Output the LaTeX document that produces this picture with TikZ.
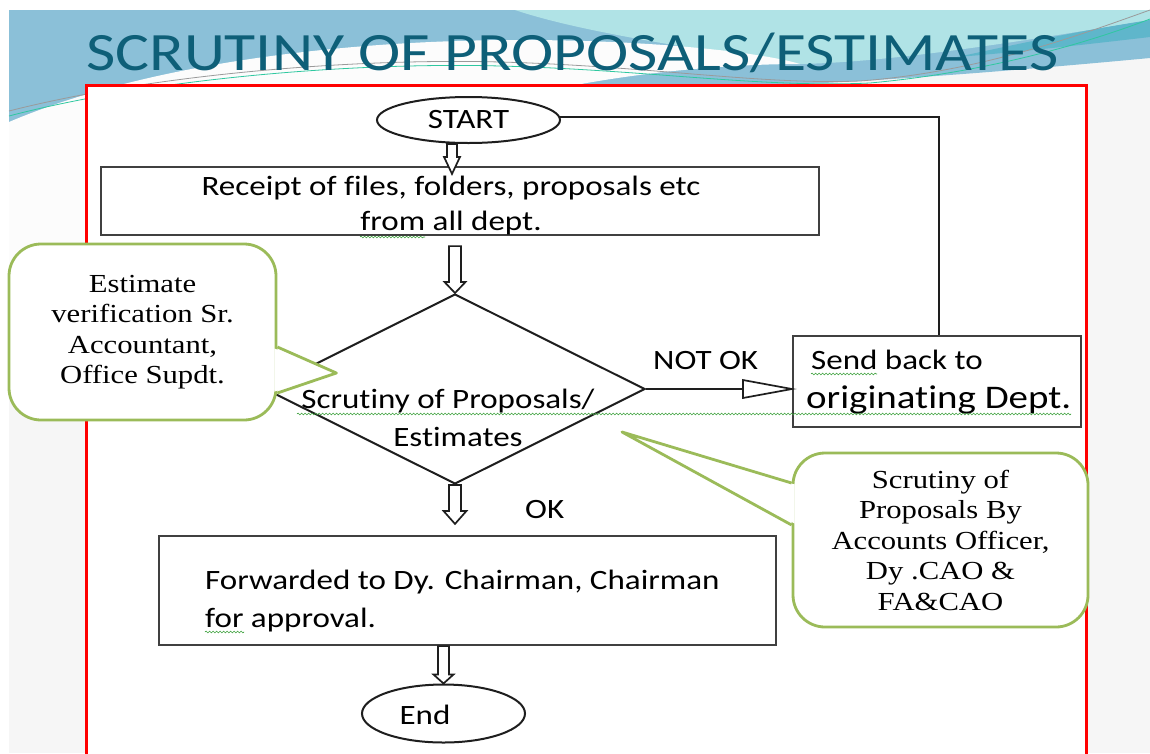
\documentclass[tikz,border=0pt]{standalone}
\usepackage{fontspec}
\usetikzlibrary{shapes.geometric,calc,decorations.pathmorphing}
\newfontfamily\flowfont{Carlito}[FakeStretch=1.18,Ligatures={NoCommon}]
\newfontfamily\serifcall{Liberation Serif}[FakeStretch=1.18]
\newfontfamily\titlefnt{Carlito}[FakeStretch=1.18,Ligatures={NoCommon}]
\definecolor{slidebg}{HTML}{F6F6F6}
\definecolor{wavebg}{HTML}{FCFCFC}
\definecolor{swblue}{HTML}{8BC0D8}
\definecolor{swcyan}{HTML}{B0E3E6}
\definecolor{swteal}{HTML}{5FB6CB}
\definecolor{titleblue}{HTML}{0E5F78}
\definecolor{callgreen}{HTML}{9BBB59}
\definecolor{linegray}{HTML}{1E1E1E}
\definecolor{spellgreen}{HTML}{3BA03B}
\definecolor{thingray}{HTML}{9A9A9A}
\definecolor{thingreen}{HTML}{2FC8A0}
\newcommand{\blockdown}[5]{%
  \draw[barrow] let \p1=(#1), \p2=(#2) in
    (\x2-#3pt,\y1) -- (\x2-#3pt,\y2+#5pt) -- (\x2-#4pt,\y2+#5pt) -- (\x2,\y2)
    -- (\x2+#4pt,\y2+#5pt) -- (\x2+#3pt,\y2+#5pt) -- (\x2+#3pt,\y1) -- cycle;}
\begin{document}
\begin{tikzpicture}[x=1pt,y=-1pt,
  flowline/.style={draw=linegray,line width=2pt},
  boxnode/.style={draw=linegray!85,line width=2.2pt,fill=white,rectangle,inner sep=0pt},
  ellnode/.style={draw=linegray,line width=2pt,fill=white,ellipse,inner sep=0pt},
  ftext/.style={font=\flowfont\fontsize{28}{34}\selectfont,inner sep=0pt,anchor=base west,text=black},
  calloutbox/.style={draw=callgreen,line width=2.8pt,fill=white,rounded corners=32pt,inner sep=0pt,
     align=center,font=\serifcall\fontsize{26}{30.5}\selectfont},
  pointer/.style={draw=callgreen,line width=2.8pt,line join=round},
  barrow/.style={draw=linegray,line width=1.7pt,fill=white,line join=miter},
  spell/.style={draw=spellgreen,line width=0.6pt,decorate,decoration={snake,segment length=3.5pt,amplitude=0.9pt}}
]
\useasboundingbox (0,0) rectangle (1150,753);
\clip (0,0) rectangle (1150,753);
% background
\fill[white] (0,0) rectangle (1150,753);
\fill[slidebg] (9,10) rectangle (1150,753);
\fill[swblue] (9,10) -- (1150,10) -- (1150,58) .. controls (1000,72) and (850,84) .. (700,88)
   -- (700,200) -- (9,200) -- cycle;
\fill[swcyan] (515,10) -- (1150,10) -- (1150,20) .. controls (1040,38) and (900,62) .. (800,64)
   .. controls (700,50) and (580,32) .. (515,10) -- cycle;
\fill[swteal] (1150,20) .. controls (1060,34) and (1000,48) .. (957,57)
   .. controls (1020,52) and (1090,44) .. (1150,37) -- cycle;
\fill[wavebg] (9,122) .. controls (150,62) and (350,40) .. (520,40)
   .. controls (650,40) and (760,52) .. (800,64)
   .. controls (740,64) and (650,70) .. (560,88) -- (560,300) -- (9,300) -- cycle;
\draw[thingray,line width=0.8pt] (9,111) .. controls (150,75) and (350,58) .. (500,62)
   .. controls (650,66) and (760,85) .. (860,81) .. controls (980,72) and (1080,35) .. (1150,10);
\draw[thingreen,line width=0.8pt] (9,116) .. controls (150,79) and (350,62) .. (500,66)
   .. controls (650,70) and (760,88) .. (870,83) .. controls (990,72) and (1090,42) .. (1150,19);
\node[font=\titlefnt\fontsize{54}{60}\selectfont,text=titleblue,anchor=base west,inner sep=0pt]
   (title) at (86,70) {SCRUTINY OF PROPOSALS/ESTIMATES};
% red frame
\fill[white] (86,85) rectangle (1086,770);
\draw[red,line width=3pt] (86,770) -- (86,85) -- (1086,85) -- (1086,770);
% flowchart nodes
\node[ellnode,minimum width=183pt,minimum height=46pt,font=\flowfont\fontsize{28}{34}\selectfont]
   (start) at (468.5,120) {START};
\node[boxnode,minimum width=718pt,minimum height=68pt] (receipt) at (459.75,201) {};
\node[ftext,anchor=base] (r1) at (451,195) {Receipt of files, folders, proposals etc};
\node[ftext,anchor=base] (r2) at (451,230) {from all dept.};
\node[diamond,draw=linegray,line width=2pt,fill=white,minimum width=380pt,minimum height=190pt,inner sep=0pt]
   (dia) at (455,389) {};
\node[ftext,anchor=base] (d1) at (448,408) {Scrutiny of Proposals/};
\node[ftext,anchor=base] (d2) at (458,446) {Estimates};
\node[boxnode,minimum width=288pt,minimum height=91pt] (send) at (937,381.5) {};
\node[ftext] (s1) at (811,369) {Send back to};
\node[ftext,font=\flowfont\fontsize{33}{38}\selectfont] (s2) at (806,408) {originating Dept.};
\node[ftext] (notok) at (653,369) {NOT OK};
\node[boxnode,minimum width=617pt,minimum height=109pt] (fwd) at (467.5,590.5) {};
\node[ftext] (f1) at (205,589) {Forwarded to Dy. Chairman, Chairman};
\node[ftext] (f2) at (205,627) {for approval.};
\node[ftext] (ok) at (525,518) {OK};
\node[ellnode,minimum width=163pt,minimum height=58pt] (endE) at (443.5,713.5) {};
\node[ftext,anchor=base] (endT) at (425,724) {End};
% connectors
\coordinate (colA) at (452,0);
\coordinate (retx) at (939,0);
\draw[flowline] (start.2) -| (send.north -| retx);
\blockdown{start.south}{$(receipt.north -| colA)+(0,8)$}{5}{8}{17}
\blockdown{$(receipt.south)+(0,10)$}{dia.north}{6}{10.5}{11}
\blockdown{dia.south}{$(fwd.north -| dia.south)+(0,-11)$}{6}{11.5}{13}
\blockdown{fwd.south}{endE.north}{5.5}{10}{9}
\draw[flowline] (dia.east) -- ($(send.west |- dia.east)+(-49,0)$);
\draw[barrow] ($(send.west |- dia.east)+(-49,-9)$) -- (send.west |- dia.east)
   -- ($(send.west |- dia.east)+(-49,9)$) -- cycle;
% spell-check squiggles
\draw[spell] (360,237) -- (425,237);
\draw[spell] (811,374) -- (877,374);
\draw[spell] (297,414) -- (1071,414);
\draw[spell] (205,632) -- (244,632);
% callouts
\node[calloutbox,minimum width=267pt,minimum height=176pt] (c1) at (142.5,332)
   {Estimate\\verification Sr.\\Accountant,\\Office Supdt.};
\fill[white] ($(c1.east)+(-3,16.5)$) -- ($(c1.east)+(59,41)$) -- ($(c1.east)+(-3,59.5)$) -- cycle;
\draw[pointer] ($(c1.east)+(0,15)$) -- ($(c1.east)+(59,41)$) -- ($(c1.east)+(0,61)$);
\node[calloutbox,minimum width=295pt,minimum height=174pt] (c2) at (940.5,540)
   {Scrutiny of\\Proposals By\\Accounts Officer,\\Dy .CAO \&\\FA\&CAO};
\fill[white] ($(c2.west)+(3,-55.5)$) -- (622,432) -- ($(c2.west)+(3,-16.5)$) -- cycle;
\draw[pointer] ($(c2.west)+(0,-57)$) -- (622,432) -- ($(c2.west)+(0,-15)$);
\end{tikzpicture}
\end{document}
